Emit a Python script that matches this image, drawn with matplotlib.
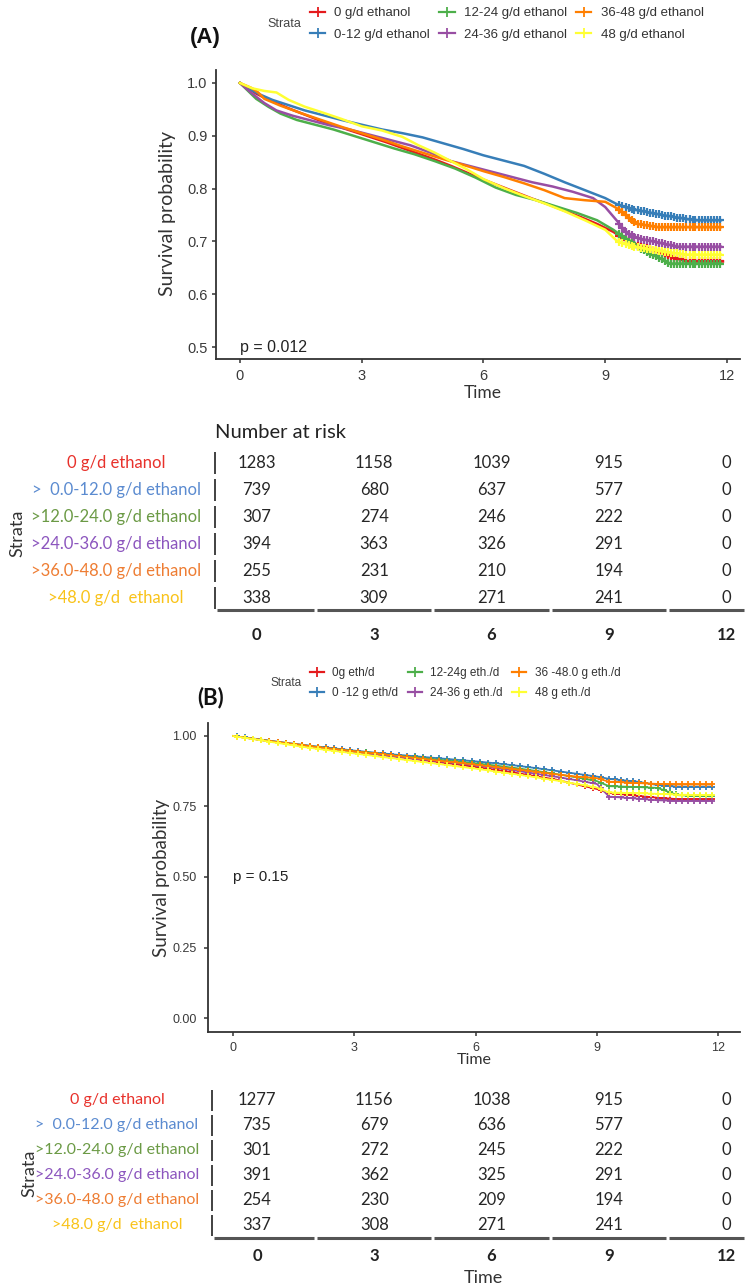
import matplotlib
matplotlib.use("Agg")
import matplotlib.pyplot as plt
from matplotlib.lines import Line2D
from matplotlib.transforms import blended_transform_factory
import numpy as np

# ---------------- data ----------------
strata_colors = ["#E41A1C", "#377EB8", "#4DAF4A", "#984EA3", "#FF7F00", "#FFFF33"]
legend_labels_A = ["0 g/d ethanol", "0-12 g/d ethanol", "12-24 g/d ethanol",
                   "24-36 g/d ethanol", "36-48 g/d ethanol", "48 g/d ethanol"]
legend_labels_B = ["0g eth/d", "0 -12 g eth/d", "12-24g eth./d",
                   "24-36 g eth./d", "36 -48.0 g eth./d", "48 g eth./d"]
table_row_labels = ["0 g/d ethanol", ">  0.0-12.0 g/d ethanol", ">12.0-24.0 g/d ethanol",
                    ">24.0-36.0 g/d ethanol", ">36.0-48.0 g/d ethanol", ">48.0 g/d  ethanol"]
table_label_colors = ["#E8312B", "#5B8BD0", "#6B9A45", "#8C56BE", "#EE7D33", "#F9C31A"]

time_ticks = [0, 3, 6, 9, 12]

# Panel A survival curves (time, survival)
tA_red = [0, 0.2, 0.4, 0.6, 0.9, 1.2, 1.6, 2.0, 2.4, 2.8, 3.2, 3.6, 4.0, 4.4, 4.8, 5.2, 5.6, 6.0,
          6.4, 6.8, 7.2, 7.6, 8.0, 8.4, 8.8, 9.2, 9.5, 9.8, 10.2, 10.6, 11.0, 11.9]
sA_red = [1.0, 0.99, 0.98, 0.972, 0.962, 0.952, 0.94, 0.928, 0.918, 0.908, 0.898, 0.888, 0.877,
          0.866, 0.855, 0.843, 0.83, 0.817, 0.805, 0.793, 0.781, 0.77, 0.758, 0.746, 0.733, 0.718,
          0.703, 0.692, 0.683, 0.672, 0.662, 0.662]
tA_blue = [0, 0.2, 0.5, 0.8, 1.2, 1.6, 2.0, 2.5, 3.0, 3.5, 4.0, 4.5, 5.0, 5.5, 6.0, 6.5, 7.0, 7.5,
           8.0, 8.5, 9.0, 9.3, 9.6, 10.0, 10.4, 10.8, 11.2, 11.85]
sA_blue = [1.0, 0.99, 0.978, 0.968, 0.958, 0.948, 0.94, 0.93, 0.921, 0.912, 0.905, 0.897, 0.886,
           0.875, 0.863, 0.853, 0.843, 0.828, 0.812, 0.797, 0.782, 0.77, 0.762, 0.756, 0.75, 0.745,
           0.74, 0.74]
tA_green = [0, 0.2, 0.4, 0.7, 1.0, 1.4, 1.8, 2.3, 2.8, 3.3, 3.8, 4.3, 4.8, 5.3, 5.8, 6.3, 6.8, 7.3,
            7.8, 8.3, 8.8, 9.2, 9.5, 9.8, 10.1, 10.4, 10.6, 11.85]
sA_green = [1.0, 0.985, 0.97, 0.955, 0.942, 0.93, 0.922, 0.912, 0.9, 0.888, 0.876, 0.865, 0.852,
            0.838, 0.821, 0.802, 0.788, 0.778, 0.766, 0.754, 0.74, 0.722, 0.705, 0.69, 0.677,
            0.666, 0.658, 0.658]
tA_purple = [0, 0.3, 0.6, 0.9, 1.3, 1.7, 2.2, 2.7, 3.2, 3.7, 4.2, 4.7, 5.2, 5.7, 6.2, 6.7, 7.2,
             7.7, 8.2, 8.7, 9.0, 9.3, 9.5, 9.8, 10.3, 10.8, 11.85]
sA_purple = [1.0, 0.98, 0.962, 0.948, 0.938, 0.93, 0.92, 0.912, 0.902, 0.892, 0.882, 0.868, 0.852,
             0.842, 0.832, 0.822, 0.812, 0.804, 0.794, 0.782, 0.765, 0.738, 0.718, 0.706, 0.698,
             0.69, 0.69]
tA_orange = [0, 0.3, 0.45, 0.6, 1.0, 1.5, 2.0, 2.5, 3.0, 3.5, 4.0, 4.5, 5.0, 5.5, 6.0, 6.5, 7.0,
             7.5, 8.0, 8.5, 9.0, 9.4, 9.6, 9.8, 10.3, 11.85]
sA_orange = [1.0, 0.99, 0.982, 0.97, 0.957, 0.943, 0.93, 0.917, 0.905, 0.893, 0.88, 0.868, 0.856,
             0.845, 0.833, 0.822, 0.81, 0.797, 0.782, 0.778, 0.775, 0.758, 0.742, 0.733, 0.727,
             0.727]
tA_yellow = [0, 0.3, 0.6, 0.9, 1.2, 1.6, 2.0, 2.5, 3.0, 3.5, 4.0, 4.4, 4.8, 5.2, 5.6, 6.0, 6.5,
             7.0, 7.5, 8.0, 8.5, 9.0, 9.3, 9.6, 10.0, 10.5, 11.0, 11.85]
sA_yellow = [1.0, 0.99, 0.985, 0.982, 0.968, 0.955, 0.945, 0.932, 0.918, 0.91, 0.898, 0.882,
             0.868, 0.852, 0.836, 0.818, 0.801, 0.786, 0.772, 0.757, 0.74, 0.722, 0.7, 0.692,
             0.686, 0.68, 0.675, 0.675]
censor_A = [9.35, 9.42, 9.5, 9.58, 9.65, 9.72, 9.8, 9.88, 9.95, 10.02, 10.1, 10.18, 10.25, 10.32,
            10.4, 10.48, 10.55, 10.62, 10.7, 10.78, 10.85, 10.92, 11.0, 11.08, 11.15, 11.22,
            11.3, 11.38, 11.45, 11.52, 11.6, 11.68, 11.75, 11.82]

# Panel B survival curves (shared time grid)
tB = [0, 0.4, 0.8, 1.2, 1.6, 2.0, 2.5, 3.0, 3.5, 4.0, 4.5, 5.0, 5.5, 6.0, 6.5, 7.0, 7.5, 8.0, 8.5,
      9.0, 9.3, 10.0, 10.5, 11.0, 11.85]
sB_red = [1.0, 0.992, 0.984, 0.976, 0.968, 0.961, 0.953, 0.944, 0.935, 0.927, 0.918, 0.909, 0.9,
          0.89, 0.88, 0.869, 0.857, 0.845, 0.828, 0.812, 0.798, 0.788, 0.781, 0.776, 0.776]
sB_blue = [1.0, 0.993, 0.985, 0.978, 0.971, 0.964, 0.956, 0.948, 0.941, 0.934, 0.928, 0.922,
           0.916, 0.91, 0.903, 0.895, 0.886, 0.876, 0.866, 0.856, 0.848, 0.838, 0.826, 0.82, 0.82]
sB_green = [1.0, 0.992, 0.984, 0.976, 0.969, 0.962, 0.954, 0.946, 0.939, 0.931, 0.924, 0.917,
            0.91, 0.903, 0.895, 0.886, 0.876, 0.865, 0.853, 0.84, 0.822, 0.819, 0.816, 0.79, 0.786]
sB_purple = [1.0, 0.992, 0.983, 0.975, 0.967, 0.96, 0.952, 0.944, 0.936, 0.928, 0.92, 0.912,
             0.904, 0.896, 0.887, 0.877, 0.866, 0.855, 0.843, 0.83, 0.785, 0.778, 0.772, 0.77, 0.77]
sB_orange = [1.0, 0.992, 0.984, 0.977, 0.97, 0.962, 0.954, 0.946, 0.938, 0.93, 0.922, 0.914,
             0.906, 0.898, 0.89, 0.882, 0.873, 0.864, 0.856, 0.85, 0.838, 0.833, 0.83, 0.828, 0.828]
sB_yellow = [1.0, 0.991, 0.982, 0.973, 0.964, 0.956, 0.947, 0.938, 0.929, 0.92, 0.911, 0.902,
             0.893, 0.884, 0.874, 0.864, 0.853, 0.842, 0.83, 0.817, 0.8, 0.797, 0.795, 0.792, 0.79]
censor_B = [0.1, 0.3, 0.5, 0.7, 0.9, 1.1, 1.3, 1.5, 1.7, 1.9, 2.1, 2.3, 2.5, 2.7, 2.9, 3.1, 3.3,
            3.5, 3.7, 3.9, 4.1, 4.3, 4.5, 4.7, 4.9, 5.1, 5.3, 5.5, 5.7, 5.9, 6.1, 6.3, 6.5, 6.7,
            6.9, 7.1, 7.3, 7.5, 7.7, 7.9, 8.1, 8.3, 8.5, 8.7, 8.9, 9.1, 9.3, 9.45, 9.6, 9.75,
            9.9, 10.05, 10.2, 10.35, 10.5, 10.65, 10.8, 10.95, 11.1, 11.25, 11.4, 11.55, 11.7,
            11.85]

risk_A = [[1283, 1158, 1039, 915, 0],
          [739, 680, 637, 577, 0],
          [307, 274, 246, 222, 0],
          [394, 363, 326, 291, 0],
          [255, 231, 210, 194, 0],
          [338, 309, 271, 241, 0]]
risk_B = [[1277, 1156, 1038, 915, 0],
          [735, 679, 636, 577, 0],
          [301, 272, 245, 222, 0],
          [391, 362, 325, 291, 0],
          [254, 230, 209, 194, 0],
          [337, 308, 271, 241, 0]]

curves_A = [(tA_red, sA_red), (tA_blue, sA_blue), (tA_green, sA_green),
            (tA_purple, sA_purple), (tA_orange, sA_orange), (tA_yellow, sA_yellow)]
curves_B = [(tB, sB_red), (tB, sB_blue), (tB, sB_green),
            (tB, sB_purple), (tB, sB_orange), (tB, sB_yellow)]

# ---------------- layout helpers ----------------
W, H = 750, 1286
fig = plt.figure(figsize=(W / 100, H / 100), dpi=100)
fig.patch.set_facecolor("white")

def fx(px):
    return px / W

def fy(py):
    return 1 - py / H

def axes_px(left, top, right, bottom):
    return fig.add_axes([fx(left), fy(bottom), (right - left) / W, (bottom - top) / H])

ARIAL = ["Liberation Sans", "DejaVu Sans"]
CALIBRI = ["Lato", "DejaVu Sans"]
AXC = "#333333"


def curve_at(t, s, c):
    return np.interp(np.asarray(c), np.asarray(t), np.asarray(s))


def km_panel(ax, curves, censor, lw, ms, mew, yticks, ylabels, tick_fs, pads):
    for (t, s), col in zip(curves, strata_colors):
        ax.plot(t, s, color=col, lw=lw, solid_joinstyle="miter")
        cy = curve_at(t, s, censor)
        ax.plot(censor, cy, ls="none", marker="+", ms=ms, mew=mew, color=col)
    for sp in ["top", "right"]:
        ax.spines[sp].set_visible(False)
    for sp in ["left", "bottom"]:
        ax.spines[sp].set_color(AXC)
        ax.spines[sp].set_linewidth(1.3)
    ax.set_xticks(time_ticks)
    ax.set_xticklabels([str(v) for v in time_ticks], family=ARIAL)
    ax.set_yticks(yticks)
    ax.set_yticklabels(ylabels, family=ARIAL)
    ax.tick_params(axis="both", direction="out", length=3, width=1.1, colors=AXC,
                   labelsize=tick_fs, labelcolor="#3a3a3a")
    ax.tick_params(axis="x", pad=pads[0])
    ax.tick_params(axis="y", pad=pads[1])


def risk_table(ax, risk, xlim, ylim, tick_pad, tick_fs, num_fs, label_cx, label_fs):
    ax.set_xlim(*xlim)
    ax.set_ylim(*ylim)
    for sp in ax.spines.values():
        sp.set_visible(False)
    ax.set_yticks([])
    ax.set_xticks(time_ticks)
    ax.set_xticklabels([str(v) for v in time_ticks], family=CALIBRI, fontweight="bold",
                       fontsize=tick_fs, color="#222222")
    ax.tick_params(axis="x", length=0, pad=tick_pad)
    for i, row in enumerate(risk):
        for t, n in zip(time_ticks, row):
            ax.text(t, i, str(n), ha="center", va="center", fontsize=num_fs,
                    family=CALIBRI, color="#262626")
    tr = blended_transform_factory(ax.transAxes, ax.transData)
    for i in range(len(risk)):
        ax.plot([0, 0], [i - 0.42, i + 0.42], transform=tr, color="#333333", lw=1.3,
                clip_on=False, solid_capstyle="butt")
    bounds = [xlim[0]] + [(a + b) / 2 for a, b in zip(time_ticks[:-1], time_ticks[1:])] + [xlim[1]]
    ybot = ylim[0]
    for a, b in zip(bounds[:-1], bounds[1:]):
        ax.plot([a + 0.04, b - 0.04], [ybot, ybot], color="#555555", lw=2.2,
                clip_on=False, solid_capstyle="butt")
    trl = blended_transform_factory(fig.transFigure, ax.transData)
    for i, (lab, col) in enumerate(zip(table_row_labels, table_label_colors)):
        ax.text(fx(label_cx), i, lab, transform=trl, ha="center", va="center",
                fontsize=label_fs, family=CALIBRI, color=col)


def strata_legend(labels, anchor_px, fs, labelspacing, colspacing, hl):
    handles = [Line2D([0], [0], color=c, lw=1.6, marker="+", ms=7, mew=1.3)
               for c in strata_colors]
    fig.legend(handles, labels, loc="center left",
               bbox_to_anchor=(fx(anchor_px[0]), fy(anchor_px[1])),
               ncol=3, frameon=False, prop={"family": ARIAL, "size": fs},
               labelcolor="#333333", borderpad=0, borderaxespad=0,
               handlelength=hl, handletextpad=0.7, columnspacing=colspacing,
               labelspacing=labelspacing)


# ---------------- Panel A ----------------
axA = axes_px(216, 70, 740, 359)
km_panel(axA, curves_A, censor_A, lw=1.8, ms=6, mew=1.6,
         yticks=[0.5, 0.6, 0.7, 0.8, 0.9, 1.0],
         ylabels=["0.5", "0.6", "0.7", "0.8", "0.9", "1.0"], tick_fs=10.5, pads=(4, 3))
axA.set_xlim(-0.59, 12.32)
axA.set_ylim(0.4773, 1.0246)
axA.text(0, 0.5, "p = 0.012", ha="left", va="center", fontsize=11.5, family=ARIAL,
         color="#222222")
fig.text(fx(168), fy(214), "Survival probability", rotation=90, ha="center", va="center",
         fontsize=14, family=CALIBRI, color="#333333")
fig.text(fx(483), fy(393), "Time", ha="center", va="center", fontsize=12.5, family=CALIBRI,
         color="#333333")
fig.text(fx(205), fy(38), "(A)", ha="center", va="center", fontsize=16, fontweight="bold",
         family=ARIAL, color="#111111")
fig.text(fx(284), fy(24), "Strata", ha="center", va="center", fontsize=9, family=ARIAL,
         color="#444444")
strata_legend(legend_labels_A, (310, 24), fs=9.5, labelspacing=0.72, colspacing=0.7, hl=1.15)

# Risk table A
tabA = axes_px(215, 449.5, 746, 610)
risk_table(tabA, risk_A, xlim=(-1.07, 12.51), ylim=(5.444, -0.5), tick_pad=12,
           tick_fs=12, num_fs=12, label_cx=116, label_fs=12)
fig.text(fx(215), fy(433), "Number at risk", ha="left", va="center", fontsize=14.5,
         family=CALIBRI, color="#222222")
fig.text(fx(17), fy(533), "Strata", rotation=90, ha="center", va="center", fontsize=13,
         family=CALIBRI, color="#333333")

# ---------------- Panel B ----------------
axB = axes_px(208, 723, 740, 1032)
km_panel(axB, curves_B, censor_B, lw=1.3, ms=5, mew=1.3,
         yticks=[0.0, 0.25, 0.5, 0.75, 1.0],
         ylabels=["0.00", "0.25", "0.50", "0.75", "1.00"], tick_fs=9, pads=(4, 5))
axB.set_xlim(-0.62, 12.54)
axB.set_ylim(-0.0496, 1.046)
axB.text(0, 0.5, "p = 0.15", ha="left", va="center", fontsize=11, family=ARIAL,
         color="#222222")
fig.text(fx(162), fy(878), "Survival probability", rotation=90, ha="center", va="center",
         fontsize=13.5, family=CALIBRI, color="#333333")
fig.text(fx(474), fy(1060), "Time", ha="center", va="center", fontsize=11.5, family=CALIBRI,
         color="#333333")
fig.text(fx(211), fy(698), "(B)", ha="center", va="center", fontsize=16, fontweight="bold",
         family=CALIBRI, color="#111111")
fig.text(fx(286), fy(683), "Strata", ha="center", va="center", fontsize=8.5, family=ARIAL,
         color="#444444")
strata_legend(legend_labels_B, (310, 683), fs=8.5, labelspacing=0.62, colspacing=0.8, hl=1.2)

# Risk table B
tabB = axes_px(212, 1087.5, 746, 1238)
risk_table(tabB, risk_B, xlim=(-1.15, 12.51), ylim=(5.52, -0.5), tick_pad=7,
           tick_fs=12, num_fs=12, label_cx=117, label_fs=11.5)
fig.text(fx(29), fy(1173), "Strata", rotation=90, ha="center", va="center", fontsize=13,
         family=CALIBRI, color="#333333")
fig.text(fx(483), fy(1278), "Time", ha="center", va="center", fontsize=13, family=CALIBRI,
         color="#333333")

fig.savefig("out.png", dpi=100, facecolor="white")
